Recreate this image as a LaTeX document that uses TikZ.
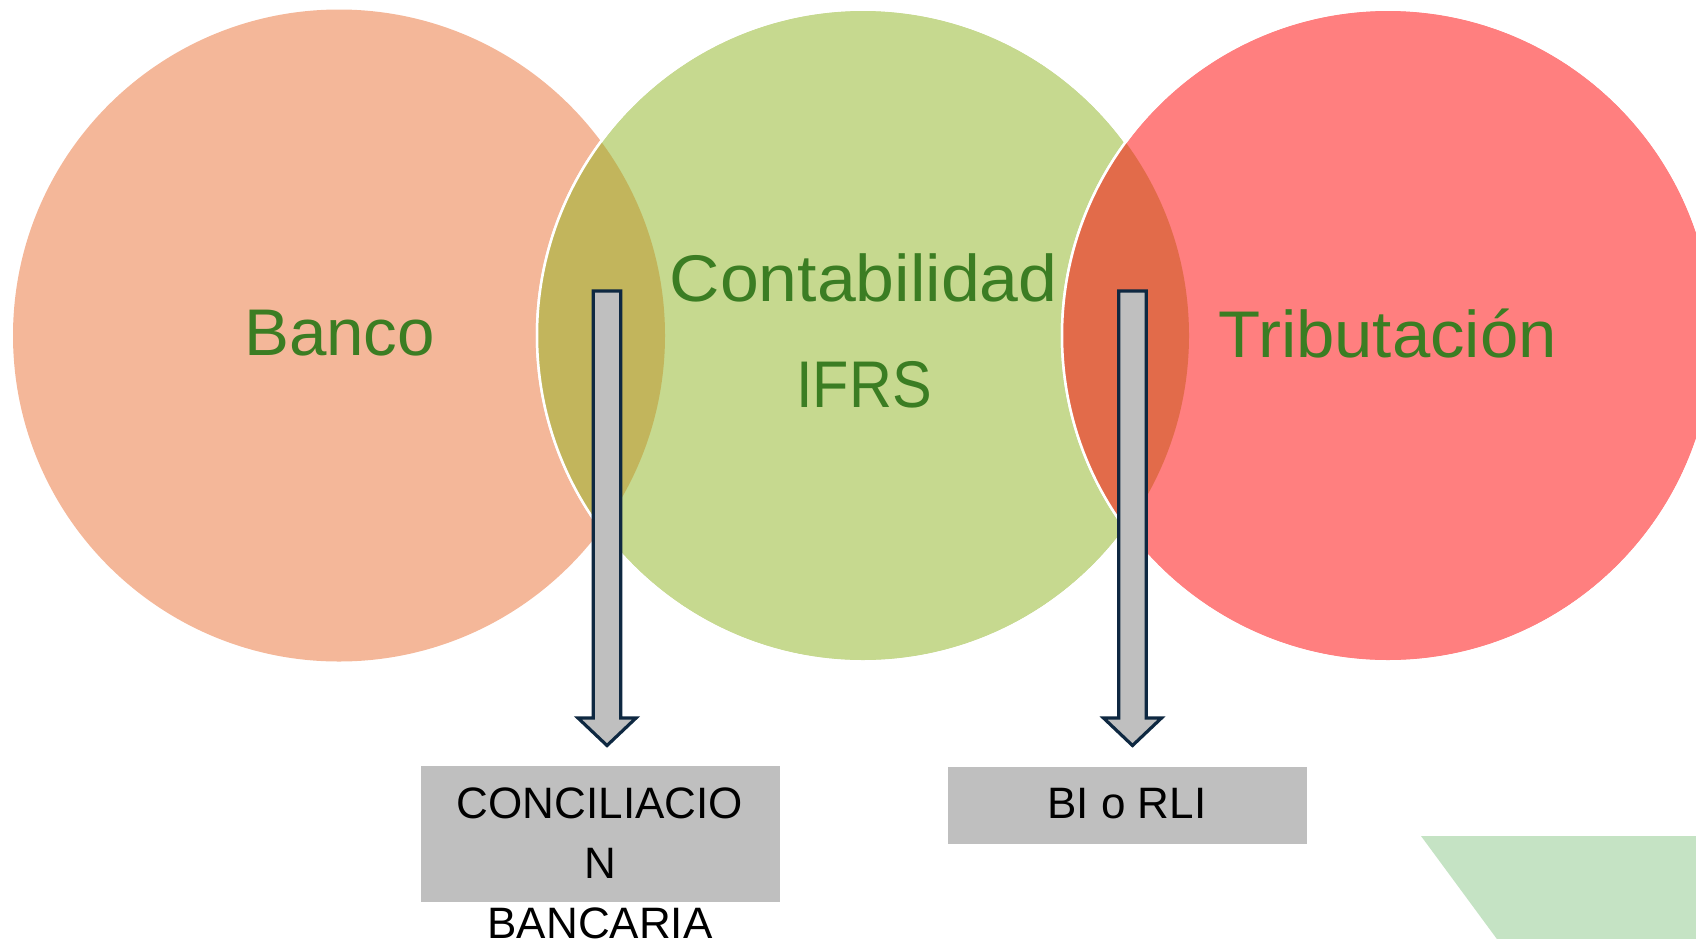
\documentclass[tikz,border=0pt]{standalone}
\usepackage{fontspec}
\setmainfont{Liberation Sans}
\usetikzlibrary{calc}
\definecolor{banco}{HTML}{F4B799}
\definecolor{conta}{HTML}{C6D98F}
\definecolor{trib}{HTML}{FF7F7F}
\definecolor{lensA}{HTML}{C2B55C}
\definecolor{lensB}{HTML}{E26B4A}
\definecolor{lbl}{HTML}{3B7D23}
\definecolor{arrowline}{HTML}{0E2841}
\definecolor{boxgray}{HTML}{BFBFBF}
\definecolor{deco}{HTML}{C5E3C4}
\begin{document}
\begin{tikzpicture}[x=1pt,y=-1pt,
  circlelabel/.style={text=lbl, font=\fontsize{66}{79}\selectfont, anchor=base, inner sep=0pt},
  boxtext/.style={text=black, font=\fontsize{44}{60}\selectfont, align=center, inner sep=0pt, anchor=north},
  graybox/.style={fill=boxgray, draw=none, inner sep=0pt},
  blockarrow/.style={fill=boxgray, draw=arrowline, line width=3.2pt, line join=miter},
  venn/.style={line width=2.5pt}]
\useasboundingbox (0,0) rectangle (1696,938);
\clip (0,0) rectangle (1696,938);
% decorative green shape, bottom right
\fill[deco] (1421,836) -- (1710,836) -- (1710,950) -- (1505,950) -- cycle;
% circles
\coordinate (cB) at (339,335.5);
\coordinate (cC) at (863,335.5);
\coordinate (cT) at (1388,335.5);
\fill[banco] (cB) circle[radius=326];
\filldraw[venn, fill=conta, draw=white] (cC) circle[radius=326];
\begin{scope}
  \clip (cB) circle[radius=326];
  \fill[lensA] (cC) circle[radius=326];
\end{scope}
\draw[venn, white] (cC) circle[radius=326];
\filldraw[venn, fill=trib, draw=white] (cT) circle[radius=326];
\begin{scope}
  \clip (cC) circle[radius=326];
  \fill[lensB] (cT) circle[radius=326];
\end{scope}
\draw[venn, white] (cT) circle[radius=326];
% labels
\node[circlelabel] (banco) at (339.6,355.4) {\scalebox{1.02}[1]{Banco}};
\node[circlelabel] (conta) at (863.6,301.7) {\scalebox{1.057}[1]{Contabilidad}};
\node[circlelabel] (ifrs) at (864,407.3) {\scalebox{0.9}[1]{IFRS}};
\node[circlelabel] (tribut) at (1387.7,357) {\scalebox{1.044}[1]{Tributación}};
% boxes
\node[graybox, minimum width=359pt, minimum height=135.7pt] (concbox) at (600.5,834) {};
\node[graybox, minimum width=359pt, minimum height=76.7pt] (bibox) at (1127,805.3) {};
\node[boxtext] (conctext) at (600,788) {CONCILIACIO\\N\\BANCARIA};
\node[boxtext] (bitext) at (1127,788.5) {BI o RLI};
% block arrows
\coordinate (aTop) at (607,291);
\coordinate (bTop) at (1132.5,291);
\foreach \t in {aTop,bTop}{
  \draw[blockarrow] ($(\t)+(-13.8,0)$) -- ($(\t)+(13.8,0)$) -- ($(\t)+(13.8,427)$)
    -- ($(\t)+(29,427)$) -- ($(\t)+(0,454.5)$) -- ($(\t)+(-29,427)$)
    -- ($(\t)+(-13.8,427)$) -- cycle;
}
\end{tikzpicture}
\end{document}
